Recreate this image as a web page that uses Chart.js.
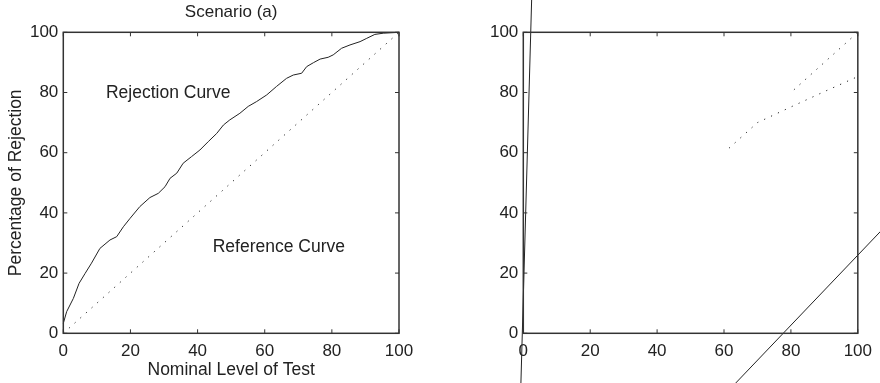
<!DOCTYPE html>
<html>
<head>
<meta charset="utf-8">
<script src="https://cdn.jsdelivr.net/npm/chart.js@4"></script>
<style>
  body { margin: 0; background: #fff; }
  #wrap { position: relative; width: 880px; height: 383px; }
  canvas { position: absolute; top: 0; }
  #left { left: 0; }
  #right { left: 440px; }
</style>
</head>
<body>
<div id="wrap">
  <canvas id="left" width="440" height="383"></canvas>
  <canvas id="right" width="440" height="383"></canvas>
</div>
<script>
// tick labels, same on both panels and both axes
const tickValues = [0, 20, 40, 60, 80, 100];

// left panel: rejection curve
const rejX = [0, 1, 3, 4.7, 6.5, 8.4, 10.9, 13.9, 15.9, 17.9, 19.9, 22.8, 25.8, 28.3, 30.3, 31.8, 33.8, 35.7,
  38.2, 40.7, 43.2, 45.7, 47.7, 49.6, 52.6, 55.1, 57.6, 60.6, 63.5, 66.5, 68.5, 71, 72.5, 74.5, 76.5, 78.9,
  80.4, 82.9, 85.4, 88.4, 90.4, 92.8, 95.3, 100];
const rejY = [3.3, 7.2, 11.6, 16.6, 19.9, 23.3, 28.2, 31, 32.1, 35.4, 38.2, 42.1, 45.1, 46.5, 48.7, 51.5, 53.2, 56.5,
  58.7, 60.9, 63.7, 66.4, 69.2, 70.9, 73.1, 75.4, 77, 79.2, 82, 84.7, 85.8, 86.4, 88.6, 89.9, 91.1, 91.7,
  92.5, 94.7, 95.8, 96.9, 98, 99.3, 99.7, 100];
// reference curve (diagonal)
const refX = [0, 100];
const refY = [0, 100];

// right panel: solid lines running off the axes
const steepX = [-0.8, 2.7];
const steepY = [-20, 119];
const slantX = [60, 110];
const slantY = [-20.6, 37.6];
// right panel: dotted lines
const diagX = [80.9, 99.6];
const diagY = [80.9, 99.6];
const bentX = [61.5, 70, 80, 90, 100, 107];
const bentY = [61.5, 70, 75.2, 80.3, 85.3, 88.8];

// text labels inside the left panel (data units)
const notes = [
  { text: 'Rejection Curve', x: 12.7, y: 79.9 },
  { text: 'Reference Curve', x: 44.5, y: 28.7 }
];

const FONT = '"Liberation Sans", Arial, Helvetica, sans-serif';
const INK = '#222';

function pts(xs, ys) {
  return xs.map((x, i) => ({ x: x, y: ys[i] }));
}

const boxPlugin = {
  id: 'box',
  afterDatasetsDraw(chart) {
    const { ctx, chartArea: a, scales } = chart;
    ctx.save();
    ctx.strokeStyle = '#333';
    ctx.lineWidth = 1.5;
    ctx.strokeRect(a.left, a.top, a.right - a.left, a.bottom - a.top);
    ctx.lineWidth = 1;
    ctx.beginPath();
    tickValues.forEach(v => {
      const x = scales.x.getPixelForValue(v);
      const y = scales.y.getPixelForValue(v);
      ctx.moveTo(x, a.bottom); ctx.lineTo(x, a.bottom - 4);
      ctx.moveTo(x, a.top); ctx.lineTo(x, a.top + 4);
      ctx.moveTo(a.left, y); ctx.lineTo(a.left + 4, y);
      ctx.moveTo(a.right, y); ctx.lineTo(a.right - 4, y);
    });
    ctx.stroke();
    ctx.restore();
  }
};

const notesPlugin = {
  id: 'notes',
  afterDatasetsDraw(chart, args, opts) {
    if (!opts.items) return;
    const { ctx, scales } = chart;
    ctx.save();
    ctx.font = '17.5px ' + FONT;
    ctx.fillStyle = INK;
    ctx.textAlign = 'left';
    ctx.textBaseline = 'middle';
    opts.items.forEach(n => {
      ctx.fillText(n.text, scales.x.getPixelForValue(n.x), scales.y.getPixelForValue(n.y));
    });
    ctx.restore();
  }
};

function axis(extra) {
  return Object.assign({
    type: 'linear',
    min: 0,
    max: 100,
    grid: { display: false, drawTicks: false },
    border: { display: false },
    afterBuildTicks: s => { s.ticks = tickValues.map(v => ({ value: v })); },
    ticks: { color: INK, font: { family: FONT, size: 17 } }
  }, extra);
}

function line(data, dotted) {
  return {
    data: data,
    borderColor: INK,
    borderWidth: 1,
    borderDash: dotted ? [1.2, 6.4] : [],
    pointRadius: 0,
    tension: 0,
    fill: false,
    clip: false
  };
}

new Chart(document.getElementById('left'), {
  type: 'line',
  data: {
    datasets: [
      line(pts(rejX, rejY), false),
      line(pts(refX, refY), true)
    ]
  },
  options: {
    responsive: false,
    animation: false,
    layout: { padding: { left: 0, right: 41, top: 0, bottom: 0 } },
    plugins: {
      legend: { display: false },
      tooltip: { enabled: false },
      title: {
        display: true,
        text: 'Scenario (a)',
        fullSize: false,
        color: INK,
        font: { family: FONT, size: 17, weight: 'normal' },
        padding: { top: 2, bottom: 9.9 }
      },
      notes: { items: notes }
    },
    scales: {
      x: axis({
        afterFit: s => { s.height = 49.7; },
        ticks: { color: INK, font: { family: FONT, size: 17 }, padding: 8, maxRotation: 0 },
        title: { display: true, text: 'Nominal Level of Test', color: INK, font: { family: FONT, size: 17.5 }, padding: { top: 0, bottom: 2.5 } }
      }),
      y: axis({
        afterFit: s => { s.width = 63.3; },
        ticks: { color: INK, font: { family: FONT, size: 17 }, padding: 5 },
        title: { display: true, text: 'Percentage of Rejection', color: INK, font: { family: FONT, size: 17.5 }, padding: { top: 5.5, bottom: 0 } }
      })
    }
  },
  plugins: [boxPlugin, notesPlugin]
});

new Chart(document.getElementById('right'), {
  type: 'line',
  data: {
    datasets: [
      line(pts(steepX, steepY), false),
      line(pts(slantX, slantY), false),
      line(pts(diagX, diagY), true),
      line(pts(bentX, bentY), true)
    ]
  },
  options: {
    responsive: false,
    animation: false,
    layout: { padding: { left: 0, right: 21.7, top: 32.3, bottom: 0 } },
    plugins: {
      legend: { display: false },
      tooltip: { enabled: false },
      title: { display: false }
    },
    scales: {
      x: axis({
        afterFit: s => { s.height = 49.7; },
        ticks: { color: INK, font: { family: FONT, size: 17 }, padding: 8, maxRotation: 0 }
      }),
      y: axis({
        afterFit: s => { s.width = 83.3; },
        ticks: { color: INK, font: { family: FONT, size: 17 }, padding: 5 }
      })
    }
  },
  plugins: [boxPlugin]
});
</script>
</body>
</html>
